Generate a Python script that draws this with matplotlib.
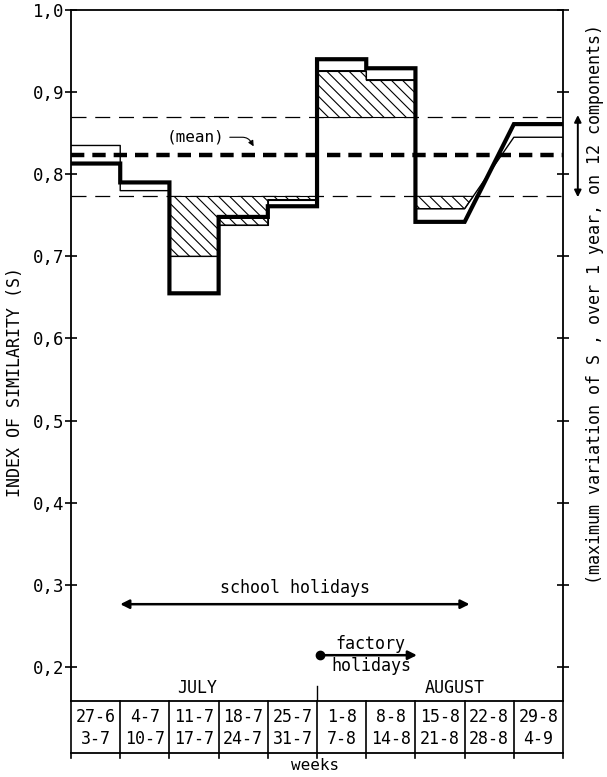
import numpy as np
import matplotlib.pyplot as plt

# week columns (start / end dates)
week_start = ['27-6', '4-7', '11-7', '18-7', '25-7', '1-8', '8-8', '15-8', '22-8', '29-8']
week_end = ['3-7', '10-7', '17-7', '24-7', '31-7', '7-8', '14-8', '21-8', '28-8', '4-9']

# index of similarity per week (nan = linear transition week)
s_bold = [0.813, 0.790, 0.655, 0.748, 0.761, 0.940, 0.929, 0.742, np.nan, 0.861]
s_thin = [0.835, 0.780, 0.700, 0.738, 0.769, 0.926, 0.915, 0.758, np.nan, 0.845]

s_mean = 0.824
band_low = 0.773
band_high = 0.870

yticks = [0.2, 0.3, 0.4, 0.5, 0.6, 0.7, 0.8, 0.9, 1.0]

plt.rcParams['font.family'] = ['DejaVu Sans Mono']
plt.rcParams['hatch.linewidth'] = 0.8
FS = 12


def step_path(vals):
    xs, ys = [], []
    for i, v in enumerate(vals):
        if np.isnan(v):
            continue
        xs += [i, i + 1]
        ys += [v, v]
    return np.array(xs, float), np.array(ys, float)


fig = plt.figure(figsize=(6.07, 7.77), dpi=100)
ax = fig.add_axes([0.117, 0.0982, 0.8106, 0.889])
n = len(week_start)
ax.set_xlim(0, n)
ax.set_ylim(0.159, 1.0)

# band and mean
ax.axhline(band_high, color='black', lw=0.9, dashes=(12, 7))
ax.axhline(band_low, color='black', lw=0.9, dashes=(12, 7))
ax.axhline(s_mean, color='black', lw=3.2, dashes=(3.0, 1.8))

# hatched departures of the thin curve outside the band
xt, yt = step_path(s_thin)
ax.fill_between(xt, yt, band_low, where=yt < band_low, interpolate=True,
                facecolor='white', edgecolor='black', hatch='\\\\\\', lw=0.8, zorder=2)
ax.fill_between(xt, yt, band_high, where=yt > band_high, interpolate=True,
                facecolor='white', edgecolor='black', hatch='\\\\\\', lw=0.8, zorder=2)
ax.plot(xt, yt, color='black', lw=1.0, zorder=3)

xb, yb = step_path(s_bold)
ax.plot(xb, yb, color='black', lw=3.0, solid_joinstyle='miter', zorder=4)

# axes styling
for sp in ax.spines.values():
    sp.set_linewidth(1.3)
ax.set_xticks([])
ax.set_yticks(yticks)
ax.set_yticklabels([('%.1f' % t).replace('.', ',') for t in yticks], fontsize=12.5)
ax.tick_params(axis='y', direction='inout', length=8, width=1.2, pad=1,
               right=True, left=True)

# (mean) annotation
ax.text(2.52, 0.845, '(mean)', fontsize=11.5, ha='center', va='center')
ax.annotate('', xy=(3.74, 0.831), xytext=(3.17, 0.845),
            arrowprops=dict(arrowstyle='-|>', color='black', lw=0.8,
                            mutation_scale=8,
                            connectionstyle='angle,angleA=0,angleB=-60,rad=6'))

# holidays
ax.text(4.55, 0.296, 'school holidays', fontsize=FS, ha='center', va='center')
ax.annotate('', xy=(8.1, 0.2765), xytext=(1.0, 0.2765),
            arrowprops=dict(arrowstyle='<|-|>', color='black', lw=1.8,
                            mutation_scale=13, shrinkA=0, shrinkB=0))
ax.annotate('', xy=(7.03, 0.2144), xytext=(5.06, 0.2144),
            arrowprops=dict(arrowstyle='-|>', color='black', lw=1.8,
                            mutation_scale=13, shrinkA=0, shrinkB=0))
ax.plot([5.06], [0.2144], 'o', color='black', ms=6)
ax.text(6.08, 0.2285, 'factory', fontsize=FS, ha='center', va='center')
ax.text(6.1, 0.2015, 'holidays', fontsize=FS, ha='center', va='center')

# months
ax.text(2.56, 0.174, 'JULY', fontsize=FS, ha='center', va='center')
ax.text(7.8, 0.174, 'AUGUST', fontsize=FS, ha='center', va='center')
ax.plot([5, 5], [0.159, 0.1775], color='black', lw=1.0)

# week table under the axes
y_bot = 0.0954
for i in range(n + 1):
    ax.plot([i, i], [0.159, y_bot - 0.006], color='black', lw=1.2, clip_on=False)
ax.plot([0, n], [y_bot, y_bot], color='black', lw=1.3, clip_on=False)
for i in range(n):
    ax.text(i + 0.5, 0.1392, week_start[i], fontsize=FS, ha='center', va='center')
    ax.text(i + 0.5, 0.112, week_end[i], fontsize=FS, ha='center', va='center')
ax.text(4.97, 0.0795, 'weeks', fontsize=11.5, ha='center', va='center')

# right side: maximum variation
ax.annotate('', xy=(10.3, band_high + 0.002), xytext=(10.3, band_low - 0.001),
            annotation_clip=False,
            arrowprops=dict(arrowstyle='<|-|>', color='black', lw=1.4,
                            mutation_scale=10, shrinkA=0, shrinkB=0))
ax.text(10.65, 0.642, '(maximum variation of S , over 1 year, on 12 components)',
        fontsize=FS, rotation=90, ha='center', va='center', clip_on=False)

fig.text(15 / 607, 1 - 382 / 777, 'INDEX OF SIMILARITY (S)', fontsize=FS,
         rotation=90, ha='center', va='center')

fig.savefig('out.png', dpi=100)
